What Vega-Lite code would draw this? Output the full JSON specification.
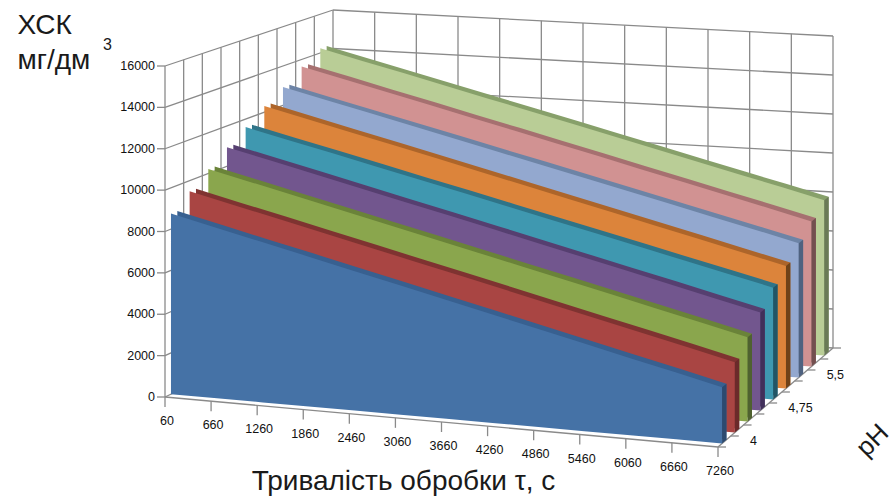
{"$schema":"https://vega.github.io/schema/vega-lite/v6.json","width":896,"height":499,"padding":0,"autosize":"none","background":"white","config":{"view":{"stroke":null},"font":"Liberation Sans"},
"data":{"values":[
{"kind":"grid","tau":60,"pH":6.25,"cod":0,"tau2":60,"pH2":6.25,"cod2":16000},{"kind":"grid","tau":660,"pH":6.25,"cod":0,"tau2":660,"pH2":6.25,"cod2":16000},{"kind":"grid","tau":1260,"pH":6.25,"cod":0,"tau2":1260,"pH2":6.25,"cod2":16000},{"kind":"grid","tau":1860,"pH":6.25,"cod":0,"tau2":1860,"pH2":6.25,"cod2":16000},{"kind":"grid","tau":2460,"pH":6.25,"cod":0,"tau2":2460,"pH2":6.25,"cod2":16000},{"kind":"grid","tau":3060,"pH":6.25,"cod":0,"tau2":3060,"pH2":6.25,"cod2":16000},{"kind":"grid","tau":3660,"pH":6.25,"cod":0,"tau2":3660,"pH2":6.25,"cod2":16000},{"kind":"grid","tau":4260,"pH":6.25,"cod":0,"tau2":4260,"pH2":6.25,"cod2":16000},{"kind":"grid","tau":4860,"pH":6.25,"cod":0,"tau2":4860,"pH2":6.25,"cod2":16000},{"kind":"grid","tau":5460,"pH":6.25,"cod":0,"tau2":5460,"pH2":6.25,"cod2":16000},{"kind":"grid","tau":6060,"pH":6.25,"cod":0,"tau2":6060,"pH2":6.25,"cod2":16000},{"kind":"grid","tau":6660,"pH":6.25,"cod":0,"tau2":6660,"pH2":6.25,"cod2":16000},{"kind":"grid","tau":7260,"pH":6.25,"cod":0,"tau2":7260,"pH2":6.25,"cod2":16000},
{"kind":"grid","tau":60,"pH":6.25,"cod":0,"tau2":7260,"pH2":6.25,"cod2":0},{"kind":"grid","tau":60,"pH":6.25,"cod":2000,"tau2":7260,"pH2":6.25,"cod2":2000},{"kind":"grid","tau":60,"pH":6.25,"cod":4000,"tau2":7260,"pH2":6.25,"cod2":4000},{"kind":"grid","tau":60,"pH":6.25,"cod":6000,"tau2":7260,"pH2":6.25,"cod2":6000},{"kind":"grid","tau":60,"pH":6.25,"cod":8000,"tau2":7260,"pH2":6.25,"cod2":8000},{"kind":"grid","tau":60,"pH":6.25,"cod":10000,"tau2":7260,"pH2":6.25,"cod2":10000},{"kind":"grid","tau":60,"pH":6.25,"cod":12000,"tau2":7260,"pH2":6.25,"cod2":12000},{"kind":"grid","tau":60,"pH":6.25,"cod":14000,"tau2":7260,"pH2":6.25,"cod2":14000},{"kind":"grid","tau":60,"pH":6.25,"cod":16000,"tau2":7260,"pH2":6.25,"cod2":16000},
{"kind":"grid","tau":60,"pH":4,"cod":0,"tau2":60,"pH2":4,"cod2":16000},{"kind":"grid","tau":60,"pH":4.25,"cod":0,"tau2":60,"pH2":4.25,"cod2":16000},{"kind":"grid","tau":60,"pH":4.5,"cod":0,"tau2":60,"pH2":4.5,"cod2":16000},{"kind":"grid","tau":60,"pH":4.75,"cod":0,"tau2":60,"pH2":4.75,"cod2":16000},{"kind":"grid","tau":60,"pH":5,"cod":0,"tau2":60,"pH2":5,"cod2":16000},{"kind":"grid","tau":60,"pH":5.25,"cod":0,"tau2":60,"pH2":5.25,"cod2":16000},{"kind":"grid","tau":60,"pH":5.5,"cod":0,"tau2":60,"pH2":5.5,"cod2":16000},{"kind":"grid","tau":60,"pH":5.75,"cod":0,"tau2":60,"pH2":5.75,"cod2":16000},{"kind":"grid","tau":60,"pH":6,"cod":0,"tau2":60,"pH2":6,"cod2":16000},
{"kind":"grid","tau":60,"pH":4,"cod":0,"tau2":60,"pH2":6.25,"cod2":0},{"kind":"grid","tau":60,"pH":4,"cod":2000,"tau2":60,"pH2":6.25,"cod2":2000},{"kind":"grid","tau":60,"pH":4,"cod":4000,"tau2":60,"pH2":6.25,"cod2":4000},{"kind":"grid","tau":60,"pH":4,"cod":6000,"tau2":60,"pH2":6.25,"cod2":6000},{"kind":"grid","tau":60,"pH":4,"cod":8000,"tau2":60,"pH2":6.25,"cod2":8000},{"kind":"grid","tau":60,"pH":4,"cod":10000,"tau2":60,"pH2":6.25,"cod2":10000},{"kind":"grid","tau":60,"pH":4,"cod":12000,"tau2":60,"pH2":6.25,"cod2":12000},{"kind":"grid","tau":60,"pH":4,"cod":14000,"tau2":60,"pH2":6.25,"cod2":14000},{"kind":"grid","tau":60,"pH":4,"cod":16000,"tau2":60,"pH2":6.25,"cod2":16000},
{"kind":"grid","tau":60,"pH":4,"cod":0,"tau2":7260,"pH2":4,"cod2":0},{"kind":"grid","tau":7260,"pH":4,"cod":0,"tau2":7260,"pH2":6.25,"cod2":0},
{"kind":"yt","tau":60,"pH":4,"cod":0,"label":"0"},{"kind":"yt","tau":60,"pH":4,"cod":2000,"label":"2000"},{"kind":"yt","tau":60,"pH":4,"cod":4000,"label":"4000"},{"kind":"yt","tau":60,"pH":4,"cod":6000,"label":"6000"},{"kind":"yt","tau":60,"pH":4,"cod":8000,"label":"8000"},{"kind":"yt","tau":60,"pH":4,"cod":10000,"label":"10000"},{"kind":"yt","tau":60,"pH":4,"cod":12000,"label":"12000"},{"kind":"yt","tau":60,"pH":4,"cod":14000,"label":"14000"},{"kind":"yt","tau":60,"pH":4,"cod":16000,"label":"16000"},
{"kind":"xt","tau":60,"pH":4,"cod":0,"label":"60"},{"kind":"xt","tau":660,"pH":4,"cod":0,"label":"660"},{"kind":"xt","tau":1260,"pH":4,"cod":0,"label":"1260"},{"kind":"xt","tau":1860,"pH":4,"cod":0,"label":"1860"},{"kind":"xt","tau":2460,"pH":4,"cod":0,"label":"2460"},{"kind":"xt","tau":3060,"pH":4,"cod":0,"label":"3060"},{"kind":"xt","tau":3660,"pH":4,"cod":0,"label":"3660"},{"kind":"xt","tau":4260,"pH":4,"cod":0,"label":"4260"},{"kind":"xt","tau":4860,"pH":4,"cod":0,"label":"4860"},{"kind":"xt","tau":5460,"pH":4,"cod":0,"label":"5460"},{"kind":"xt","tau":6060,"pH":4,"cod":0,"label":"6060"},{"kind":"xt","tau":6660,"pH":4,"cod":0,"label":"6660"},{"kind":"xt","tau":7260,"pH":4,"cod":0,"label":"7260"},
{"kind":"pt","tau":7260,"pH":4,"cod":0,"label":"4"},{"kind":"pt","tau":7260,"pH":4.25,"cod":0},{"kind":"pt","tau":7260,"pH":4.5,"cod":0},{"kind":"pt","tau":7260,"pH":4.75,"cod":0,"label":"4,75"},{"kind":"pt","tau":7260,"pH":5,"cod":0},{"kind":"pt","tau":7260,"pH":5.25,"cod":0},{"kind":"pt","tau":7260,"pH":5.5,"cod":0,"label":"5,5"},{"kind":"pt","tau":7260,"pH":5.75,"cod":0},{"kind":"pt","tau":7260,"pH":6,"cod":0},{"kind":"pt","tau":7260,"pH":6.25,"cod":0},
{"kind":"series","pH":6,"tau":60,"cod":14240},{"kind":"series","pH":6,"tau":660,"cod":13710},{"kind":"series","pH":6,"tau":1260,"cod":13190},{"kind":"series","pH":6,"tau":1860,"cod":12660},{"kind":"series","pH":6,"tau":2460,"cod":12130},{"kind":"series","pH":6,"tau":3060,"cod":11610},{"kind":"series","pH":6,"tau":3660,"cod":11080},{"kind":"series","pH":6,"tau":4260,"cod":10550},{"kind":"series","pH":6,"tau":4860,"cod":10030},{"kind":"series","pH":6,"tau":5460,"cod":9500},{"kind":"series","pH":6,"tau":6060,"cod":8970},{"kind":"series","pH":6,"tau":6660,"cod":8450},{"kind":"series","pH":6,"tau":7260,"cod":7920},
{"kind":"series","pH":5.75,"tau":60,"cod":13640},{"kind":"series","pH":5.75,"tau":660,"cod":13120},{"kind":"series","pH":5.75,"tau":1260,"cod":12590},{"kind":"series","pH":5.75,"tau":1860,"cod":12070},{"kind":"series","pH":5.75,"tau":2460,"cod":11540},{"kind":"series","pH":5.75,"tau":3060,"cod":11020},{"kind":"series","pH":5.75,"tau":3660,"cod":10490},{"kind":"series","pH":5.75,"tau":4260,"cod":9970},{"kind":"series","pH":5.75,"tau":4860,"cod":9440},{"kind":"series","pH":5.75,"tau":5460,"cod":8920},{"kind":"series","pH":5.75,"tau":6060,"cod":8390},{"kind":"series","pH":5.75,"tau":6660,"cod":7870},{"kind":"series","pH":5.75,"tau":7260,"cod":7340},
{"kind":"series","pH":5.5,"tau":60,"cod":12930},{"kind":"series","pH":5.5,"tau":660,"cod":12410},{"kind":"series","pH":5.5,"tau":1260,"cod":11900},{"kind":"series","pH":5.5,"tau":1860,"cod":11380},{"kind":"series","pH":5.5,"tau":2460,"cod":10870},{"kind":"series","pH":5.5,"tau":3060,"cod":10350},{"kind":"series","pH":5.5,"tau":3660,"cod":9840},{"kind":"series","pH":5.5,"tau":4260,"cod":9320},{"kind":"series","pH":5.5,"tau":4860,"cod":8800},{"kind":"series","pH":5.5,"tau":5460,"cod":8290},{"kind":"series","pH":5.5,"tau":6060,"cod":7770},{"kind":"series","pH":5.5,"tau":6660,"cod":7260},{"kind":"series","pH":5.5,"tau":7260,"cod":6740},
{"kind":"series","pH":5.25,"tau":60,"cod":12320},{"kind":"series","pH":5.25,"tau":660,"cod":11800},{"kind":"series","pH":5.25,"tau":1260,"cod":11280},{"kind":"series","pH":5.25,"tau":1860,"cod":10770},{"kind":"series","pH":5.25,"tau":2460,"cod":10250},{"kind":"series","pH":5.25,"tau":3060,"cod":9730},{"kind":"series","pH":5.25,"tau":3660,"cod":9210},{"kind":"series","pH":5.25,"tau":4260,"cod":8690},{"kind":"series","pH":5.25,"tau":4860,"cod":8170},{"kind":"series","pH":5.25,"tau":5460,"cod":7650},{"kind":"series","pH":5.25,"tau":6060,"cod":7140},{"kind":"series","pH":5.25,"tau":6660,"cod":6620},{"kind":"series","pH":5.25,"tau":7260,"cod":6100},
{"kind":"series","pH":5,"tau":60,"cod":11600},{"kind":"series","pH":5,"tau":660,"cod":11090},{"kind":"series","pH":5,"tau":1260,"cod":10590},{"kind":"series","pH":5,"tau":1860,"cod":10080},{"kind":"series","pH":5,"tau":2460,"cod":9570},{"kind":"series","pH":5,"tau":3060,"cod":9070},{"kind":"series","pH":5,"tau":3660,"cod":8560},{"kind":"series","pH":5,"tau":4260,"cod":8050},{"kind":"series","pH":5,"tau":4860,"cod":7550},{"kind":"series","pH":5,"tau":5460,"cod":7040},{"kind":"series","pH":5,"tau":6060,"cod":6530},{"kind":"series","pH":5,"tau":6660,"cod":6030},{"kind":"series","pH":5,"tau":7260,"cod":5520},
{"kind":"series","pH":4.75,"tau":60,"cod":10950},{"kind":"series","pH":4.75,"tau":660,"cod":10440},{"kind":"series","pH":4.75,"tau":1260,"cod":9930},{"kind":"series","pH":4.75,"tau":1860,"cod":9410},{"kind":"series","pH":4.75,"tau":2460,"cod":8900},{"kind":"series","pH":4.75,"tau":3060,"cod":8390},{"kind":"series","pH":4.75,"tau":3660,"cod":7880},{"kind":"series","pH":4.75,"tau":4260,"cod":7360},{"kind":"series","pH":4.75,"tau":4860,"cod":6850},{"kind":"series","pH":4.75,"tau":5460,"cod":6340},{"kind":"series","pH":4.75,"tau":6060,"cod":5830},{"kind":"series","pH":4.75,"tau":6660,"cod":5310},{"kind":"series","pH":4.75,"tau":7260,"cod":4800},
{"kind":"series","pH":4.5,"tau":60,"cod":10220},{"kind":"series","pH":4.5,"tau":660,"cod":9710},{"kind":"series","pH":4.5,"tau":1260,"cod":9200},{"kind":"series","pH":4.5,"tau":1860,"cod":8690},{"kind":"series","pH":4.5,"tau":2460,"cod":8180},{"kind":"series","pH":4.5,"tau":3060,"cod":7670},{"kind":"series","pH":4.5,"tau":3660,"cod":7160},{"kind":"series","pH":4.5,"tau":4260,"cod":6650},{"kind":"series","pH":4.5,"tau":4860,"cod":6140},{"kind":"series","pH":4.5,"tau":5460,"cod":5630},{"kind":"series","pH":4.5,"tau":6060,"cod":5120},{"kind":"series","pH":4.5,"tau":6660,"cod":4610},{"kind":"series","pH":4.5,"tau":7260,"cod":4100},
{"kind":"series","pH":4.25,"tau":60,"cod":9480},{"kind":"series","pH":4.25,"tau":660,"cod":8970},{"kind":"series","pH":4.25,"tau":1260,"cod":8470},{"kind":"series","pH":4.25,"tau":1860,"cod":7960},{"kind":"series","pH":4.25,"tau":2460,"cod":7450},{"kind":"series","pH":4.25,"tau":3060,"cod":6940},{"kind":"series","pH":4.25,"tau":3660,"cod":6440},{"kind":"series","pH":4.25,"tau":4260,"cod":5930},{"kind":"series","pH":4.25,"tau":4860,"cod":5420},{"kind":"series","pH":4.25,"tau":5460,"cod":4910},{"kind":"series","pH":4.25,"tau":6060,"cod":4410},{"kind":"series","pH":4.25,"tau":6660,"cod":3900},{"kind":"series","pH":4.25,"tau":7260,"cod":3390},
{"kind":"series","pH":4,"tau":60,"cod":8750},{"kind":"series","pH":4,"tau":660,"cod":8250},{"kind":"series","pH":4,"tau":1260,"cod":7740},{"kind":"series","pH":4,"tau":1860,"cod":7240},{"kind":"series","pH":4,"tau":2460,"cod":6730},{"kind":"series","pH":4,"tau":3060,"cod":6230},{"kind":"series","pH":4,"tau":3660,"cod":5720},{"kind":"series","pH":4,"tau":4260,"cod":5220},{"kind":"series","pH":4,"tau":4860,"cod":4710},{"kind":"series","pH":4,"tau":5460,"cod":4210},{"kind":"series","pH":4,"tau":6060,"cod":3700},{"kind":"series","pH":4,"tau":6660,"cod":3200},{"kind":"series","pH":4,"tau":7260,"cod":2690}
]},
"transform":[
{"fold":["back","side1","side2","front"],"as":["face","unused"]},
{"filter":"datum.kind=='series' ? (datum.face=='back'||datum.face=='front'||datum.tau==7260) : datum.face=='front'"},
{"calculate":"datum.kind=='series' ? ((datum.face=='back'||datum.face=='side2') ? 0.165 : 0.08) : 0","as":"d"},
{"calculate":"datum.pH+'|'+(datum.face=='side1'||datum.face=='side2' ? 'side' : datum.face)","as":"key"},
{"calculate":"(datum.tau-60)/7200","as":"u"},
{"calculate":"(datum.pH+datum.d-4)/2.25","as":"v"},
{"calculate":"datum.cod/16000","as":"w"},
{"calculate":"(1-datum.v)*(165+553*datum.u)+datum.v*(333+500*datum.u)","as":"sx"},
{"calculate":"(1-datum.v)*(397+50*datum.u)+datum.v*(318+30*datum.u)","as":"floor"},
{"calculate":"datum.floor-datum.w*((1-datum.v)*(331+4*datum.u)+datum.v*(308+4*datum.u))","as":"sy"},
{"calculate":"(datum.tau2-60)/7200","as":"u2"},
{"calculate":"(datum.pH2-4)/2.25","as":"v2"},
{"calculate":"datum.cod2/16000","as":"w2"},
{"calculate":"(1-datum.v2)*(165+553*datum.u2)+datum.v2*(333+500*datum.u2)","as":"sx2"},
{"calculate":"(1-datum.v2)*(397+50*datum.u2)+datum.v2*(318+30*datum.u2)-datum.w2*((1-datum.v2)*(331+4*datum.u2)+datum.v2*(308+4*datum.u2))","as":"sy2"},
{"calculate":"datum.sx+(datum.kind=='yt' ? -8 : datum.kind=='pt' ? 8 : 0)","as":"tx"},
{"calculate":"datum.sy+(datum.kind=='xt' ? 10 : 0)","as":"ty"}
],
"resolve":{"axis":{"x":"independent","y":"independent"}},
"layer":[
{"transform":[{"filter":"datum.kind=='grid'"}],"mark":{"type":"rule","color":"#8a8a8a","strokeWidth":1.3},
"encoding":{
"x":{"field":"sx","type":"quantitative","scale":{"domain":[0,896],"nice":false,"zero":false},"axis":{"domain":false,"ticks":false,"labels":false,"grid":false,"title":"Тривалість обробки τ, с","titleFont":"Liberation Sans","titleFontSize":28,"titleFontWeight":"normal","titleColor":"#1a1a1a","titleX":403,"titleY":-10,"titleAlign":"center","titleBaseline":"alphabetic"}},
"y":{"field":"sy","type":"quantitative","scale":{"domain":[499,0],"nice":false,"zero":false},"axis":{"domain":false,"ticks":false,"labels":false,"grid":false,"title":["ХСК","мг/дм"],"titleFont":"Liberation Sans","titleFontSize":28,"titleFontWeight":"normal","titleColor":"#1a1a1a","titleAngle":0,"titleX":17,"titleY":33,"titleAlign":"left","titleBaseline":"alphabetic","titleLineHeight":35}},
"x2":{"field":"sx2"},"y2":{"field":"sy2"}}},
{"transform":[{"filter":"datum.kind=='yt'||datum.kind=='xt'||datum.kind=='pt'"}],"mark":{"type":"rule","color":"#8a8a8a","strokeWidth":1.3},
"encoding":{
"x":{"field":"sx","type":"quantitative","scale":{"domain":[0,896],"nice":false,"zero":false},"axis":{"orient":"top","domain":false,"ticks":false,"labels":false,"grid":false,"title":"3","titleFont":"Liberation Sans","titleFontSize":16,"titleFontWeight":"normal","titleColor":"#1a1a1a","titleX":107,"titleY":49,"titleAlign":"center","titleBaseline":"alphabetic"}},
"y":{"field":"sy","type":"quantitative","scale":{"domain":[499,0],"nice":false,"zero":false},"axis":{"orient":"right","domain":false,"ticks":false,"labels":false,"grid":false,"title":"pH","titleFont":"Liberation Sans","titleFontSize":26,"titleFontWeight":"normal","titleColor":"#1a1a1a","titleAngle":-45,"titleX":-24,"titleY":440,"titleAlign":"center","titleBaseline":"middle"}},
"x2":{"field":"tx"},"y2":{"field":"ty"}}},
{"transform":[{"filter":"datum.kind=='series'"}],"mark":{"type":"area","interpolate":"linear","line":false},
"encoding":{
"x":{"field":"sx","type":"quantitative","scale":{"domain":[0,896],"nice":false,"zero":false},"axis":null},
"y":{"field":"sy","type":"quantitative","scale":{"domain":[499,0],"nice":false,"zero":false},"axis":null},
"y2":{"field":"floor"},
"color":{"field":"key","type":"nominal","legend":null,"scale":{
"domain":["4|front","4|back","4|side","4.25|front","4.25|back","4.25|side","4.5|front","4.5|back","4.5|side","4.75|front","4.75|back","4.75|side","5|front","5|back","5|side","5.25|front","5.25|back","5.25|side","5.5|front","5.5|back","5.5|side","5.75|front","5.75|back","5.75|side","6|front","6|back","6|side"],
"range":["#4572a6","#386090","#2c4a70","#a94543","#7f3331","#6b2a2a","#8aa64d","#6a8339","#4f6130","#72568e","#563f70","#41305a","#3f98b0","#2f7488","#225565","#dc843b","#ad652a","#6f4218","#93a8cf","#6d84a6","#4f6280","#d19292","#a67070","#734f4f","#b9cd96","#87a06a","#6a7a56"]}}}},
{"transform":[{"filter":"datum.kind=='yt'"}],"mark":{"type":"text","align":"right","baseline":"middle","dx":-10,"fontSize":12.5,"color":"#111111"},
"encoding":{"x":{"field":"sx","type":"quantitative","scale":{"domain":[0,896],"nice":false,"zero":false},"axis":null},"y":{"field":"sy","type":"quantitative","scale":{"domain":[499,0],"nice":false,"zero":false},"axis":null},"text":{"field":"label"}}},
{"transform":[{"filter":"datum.kind=='xt'"}],"mark":{"type":"text","align":"center","baseline":"middle","dx":2,"dy":24,"fontSize":12.5,"color":"#111111"},
"encoding":{"x":{"field":"sx","type":"quantitative","scale":{"domain":[0,896],"nice":false,"zero":false},"axis":null},"y":{"field":"sy","type":"quantitative","scale":{"domain":[499,0],"nice":false,"zero":false},"axis":null},"text":{"field":"label"}}},
{"transform":[{"filter":"datum.kind=='pt'&&isValid(datum.label)"}],"mark":{"type":"text","align":"left","baseline":"middle","dx":32,"dy":-6,"fontSize":12.5,"color":"#111111"},
"encoding":{"x":{"field":"sx","type":"quantitative","scale":{"domain":[0,896],"nice":false,"zero":false},"axis":null},"y":{"field":"sy","type":"quantitative","scale":{"domain":[499,0],"nice":false,"zero":false},"axis":null},"text":{"field":"label"}}}
]}
